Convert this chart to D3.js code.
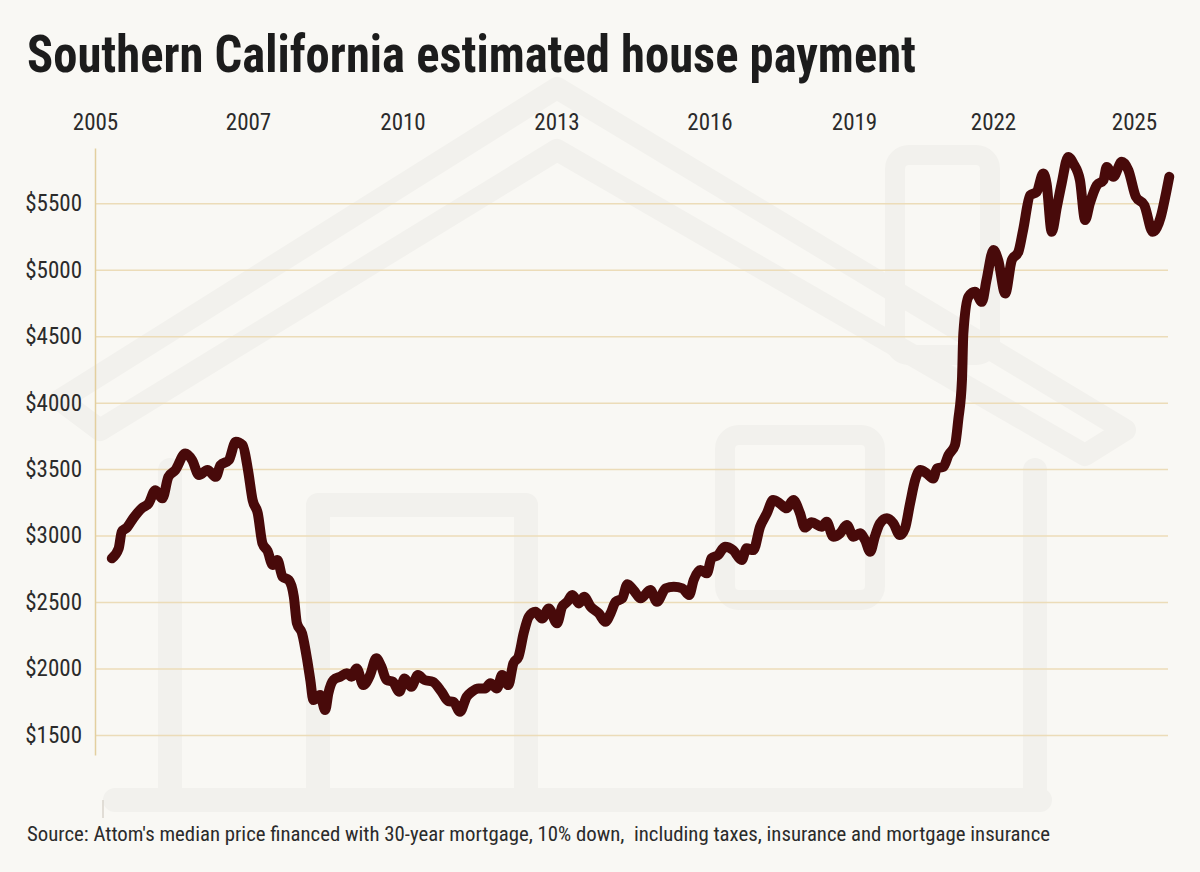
<!DOCTYPE html>
<html>
<head>
<meta charset="utf-8">
<script src="https://cdn.jsdelivr.net/npm/d3@7"></script>
<style>
  html, body { margin: 0; padding: 0; background: #f9f8f4; }
  svg { display: block; }
  .narrow { font-family: "Liberation Sans Narrow", "Roboto Condensed", "DejaVu Sans Condensed", "Arial Narrow", sans-serif; }
</style>
</head>
<body>
<svg id="chart" width="1200" height="872"></svg>
<script>
// decimal year of each reading
var years = [
  2005.22, 2005.31, 2005.35, 2005.42, 2005.50, 2005.61, 2005.70, 2005.79, 2005.88, 2005.96,
  2006.05, 2006.18, 2006.27, 2006.36, 2006.47, 2006.58, 2006.64, 2006.75, 2006.84, 2006.93,
  2007.00, 2007.09, 2007.19, 2007.28, 2007.38, 2007.48, 2007.57, 2007.67, 2007.79, 2007.89,
  2007.95, 2008.05, 2008.15, 2008.21, 2008.27, 2008.40, 2008.50, 2008.56, 2008.66, 2008.79,
  2008.92, 2009.01, 2009.11, 2009.24, 2009.37, 2009.49, 2009.59, 2009.69, 2009.81, 2009.94,
  2010.04, 2010.17, 2010.30, 2010.43, 2010.59, 2010.76, 2010.89, 2010.99, 2011.12, 2011.25,
  2011.35, 2011.48, 2011.61, 2011.71, 2011.84, 2011.94, 2012.06, 2012.16, 2012.26, 2012.36,
  2012.46, 2012.59, 2012.72, 2012.85, 2013.01, 2013.11, 2013.21, 2013.31, 2013.44, 2013.54,
  2013.67, 2013.83, 2013.96, 2014.06, 2014.16, 2014.29, 2014.39, 2014.52, 2014.65, 2014.84,
  2014.97, 2015.14, 2015.30, 2015.47, 2015.60, 2015.69, 2015.82, 2015.95, 2016.04, 2016.18,
  2016.32, 2016.49, 2016.67, 2016.77, 2016.91, 2017.05, 2017.19, 2017.32, 2017.46, 2017.60,
  2017.74, 2017.88, 2017.98, 2018.12, 2018.33, 2018.43, 2018.57, 2018.71, 2018.85, 2018.99,
  2019.13, 2019.24, 2019.35, 2019.45, 2019.56, 2019.71, 2019.85, 2019.99, 2020.10, 2020.21,
  2020.32, 2020.43, 2020.57, 2020.71, 2020.79, 2020.93, 2021.04, 2021.18, 2021.25, 2021.33,
  2021.36, 2021.47, 2021.61, 2021.76, 2021.86, 2022.01, 2022.11, 2022.26, 2022.40, 2022.54,
  2022.64, 2022.79, 2022.93, 2023.07, 2023.14, 2023.25, 2023.36, 2023.46, 2023.60, 2023.71,
  2023.85, 2023.96, 2024.06, 2024.21, 2024.35, 2024.42, 2024.56, 2024.74, 2024.88, 2025.04,
  2025.22, 2025.40, 2025.57, 2025.68, 2025.75
];

// estimated monthly payment, dollars
var payments = [
  2829, 2904, 3029, 3062, 3130, 3205, 3242, 3342, 3280, 3442,
  3493, 3618, 3568, 3455, 3493, 3442, 3530, 3568, 3706, 3681,
  3493, 3267, 3167, 2942, 2885, 2779, 2816, 2690, 2666, 2540,
  2340, 2265, 2064, 1914, 1763, 1801, 1688, 1813, 1914, 1939,
  1964, 1939, 2001, 1876, 1951, 2077, 2014, 1914, 1901, 1826,
  1926, 1863, 1951, 1914, 1901, 1826, 1755, 1750, 1675, 1788,
  1826, 1851, 1851, 1889, 1851, 1951, 1876, 2039, 2089, 2265,
  2390, 2427, 2377, 2452, 2340, 2465, 2502, 2553, 2490, 2540,
  2465, 2415, 2352, 2415, 2502, 2528, 2635, 2585, 2528, 2590,
  2502, 2603, 2615, 2603, 2553, 2666, 2741, 2716, 2829, 2854,
  2916, 2891, 2816, 2904, 2891, 3067, 3167, 3267, 3242, 3205,
  3267, 3167, 3060, 3100, 3067, 3104, 2992, 3017, 3079, 2992,
  3017, 2966, 2878, 2992, 3092, 3130, 3092, 3004, 3054, 3242,
  3418, 3493, 3467, 3430, 3505, 3517, 3606, 3681, 3869, 4170,
  4520, 4796, 4833, 4758, 4921, 5147, 5072, 4821, 5072, 5134,
  5297, 5560, 5585, 5723, 5647, 5285, 5473, 5647, 5848, 5798,
  5673, 5373, 5498, 5636, 5673, 5773, 5698, 5811, 5748, 5548,
  5485, 5285, 5398, 5573, 5698
];

var tickYears = [2005, 2007, 2010, 2013, 2016, 2019, 2022, 2025];
var tickPayments = [1500, 2000, 2500, 3000, 3500, 4000, 4500, 5000, 5500];

var titleText = "Southern California estimated house payment";
var sourceText = "Source: Attom's median price financed with 30-year mortgage, 10% down,  including taxes, insurance and mortgage insurance";

var svg = d3.select("#chart");

// background
svg.append("rect").attr("width", 1200).attr("height", 872).attr("fill", "#f9f8f4");

// faint house drawing behind the chart
var house = svg.append("g")
    .attr("fill", "none")
    .attr("stroke", "#f2f1ed")
    .attr("stroke-linejoin", "round")
    .attr("stroke-linecap", "round");

house.append("rect")   // chimney
    .attr("x", 895).attr("y", 155).attr("width", 95).attr("height", 200).attr("rx", 14)
    .attr("stroke-width", 20);
house.append("path")   // roof
    .attr("stroke-width", 22)
    .attr("d", "M60,400 L557,88 L1125,430 L1085,455 L557,150 L100,430 Z");
house.append("rect")   // window
    .attr("x", 725).attr("y", 435).attr("width", 150).attr("height", 165).attr("rx", 14)
    .attr("stroke-width", 20);
house.append("rect")   // door
    .attr("x", 318).attr("y", 505).attr("width", 208).attr("height", 295)
    .attr("stroke-width", 24);
house.append("path")   // walls and base
    .attr("stroke-width", 24)
    .attr("d", "M170,470 L170,800 M115,800 L1040,800 M1035,470 L1035,800");

// scales
var x = d3.scaleLinear()
    .domain(tickYears)
    .range([95, 248, 402.5, 556.5, 709.5, 854, 993, 1134]);

var y = d3.scaleLinear()
    .domain([1350, 5915])
    .range([755, 148]);

// gridlines
svg.append("g")
    .attr("transform", "translate(95,0)")
    .call(d3.axisRight(y).tickValues(tickPayments).tickSize(1073).tickFormat(""))
    .call(function (g) { g.select(".domain").remove(); })
    .selectAll("line")
    .attr("stroke", "#ecdcb8")
    .attr("stroke-width", 1.5);

// y axis line + labels
var yAxis = svg.append("g")
    .attr("class", "narrow")
    .attr("transform", "translate(95,0)")
    .call(d3.axisLeft(y).tickValues(tickPayments).tickSize(0).tickPadding(13)
        .tickFormat(function (d) { return "$" + d; }));
yAxis.select(".domain").attr("stroke", "#e3cf9f").attr("stroke-width", 1.5);
yAxis.selectAll("text")
    .attr("font-size", 23)
    .attr("fill", "#2b2b2b");

// x axis labels on top
var xAxis = svg.append("g")
    .attr("class", "narrow")
    .attr("transform", "translate(0,148)")
    .call(d3.axisTop(x).tickValues(tickYears).tickSize(0).tickPadding(18)
        .tickFormat(d3.format("d")));
xAxis.select(".domain").remove();
xAxis.selectAll("text")
    .attr("font-size", 23)
    .attr("fill", "#2b2b2b");

// small stray mark under the axis
svg.append("line")
    .attr("x1", 103).attr("x2", 103).attr("y1", 800).attr("y2", 818)
    .attr("stroke", "#d8d4cc").attr("stroke-width", 1.5);

// the line
var pts = years.map(function (d, i) { return [d, payments[i]]; });
var line = d3.line()
    .x(function (d) { return x(d[0]); })
    .y(function (d) { return y(d[1]); })
    .curve(d3.curveMonotoneX);

svg.append("path")
    .datum(pts)
    .attr("d", line)
    .attr("fill", "none")
    .attr("stroke", "#480a0a")
    .attr("stroke-width", 10)
    .attr("stroke-linejoin", "round")
    .attr("stroke-linecap", "round");

// title
svg.append("text")
    .attr("class", "narrow")
    .attr("x", 27)
    .attr("y", 72)
    .attr("font-size", 52)
    .attr("font-weight", 700)
    .attr("fill", "#1c1c1c")
    .attr("textLength", 889)
    .attr("lengthAdjust", "spacingAndGlyphs")
    .text(titleText);

// source note
svg.append("text")
    .attr("class", "narrow")
    .attr("x", 27)
    .attr("y", 841)
    .attr("font-size", 20.5)
    .attr("fill", "#2b2b2b")
    .attr("textLength", 1023)
    .attr("lengthAdjust", "spacingAndGlyphs")
    .style("white-space", "pre")
    .text(sourceText);
</script>
</body>
</html>
